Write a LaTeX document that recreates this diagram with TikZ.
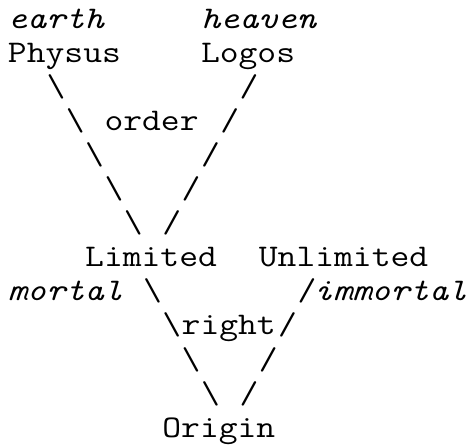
\documentclass[tikz,border=0pt]{standalone}
\usepackage{fontspec}
\usepackage{graphicx}
\tikzset{
  ch/.style={anchor=base west, inner sep=0pt, outer sep=0pt,
    font=\ttfamily\fontsize{31.5pt}{34pt}\selectfont},
  itch/.style={ch, font=\ttfamily\fontsize{31.5pt}{34pt}\selectfont\itshape}
}
\newcommand{\sx}[1]{\scalebox{1.16}[1]{#1}}
\newcommand{\bs}{\sx{\textbackslash}}
\begin{document}
\begin{tikzpicture}[x=19.3pt, y=-34.1pt]
\useasboundingbox (0pt,0pt) rectangle (469pt,-445pt);
\begin{scope}[shift={(8pt,-28pt)}]
% row 0
\node[itch] (earth) at (0,0) {\sx{earth}};
\node[itch] (heaven) at (10,0) {\sx{heaven}};
% row 1
\node[ch] (physus) at (0,1) {\sx{Physus}};
\node[ch] (logos) at (10,1) {\sx{Logos}};
% rows 2-6
\node[ch] (l2) at (2,2) {\bs};
\node[ch] (r2) at (12,2) {\sx{/}};
\node[ch] (l3) at (3,3) {\bs};
\node[ch] (order) at (5,3) {\sx{order}};
\node[ch] (r3) at (11,3) {\sx{/}};
\node[ch] (l4) at (4,4) {\bs};
\node[ch] (r4) at (10,4) {\sx{/}};
\node[ch] (l5) at (5,5) {\bs};
\node[ch] (r5) at (9,5) {\sx{/}};
\node[ch] (l6) at (6,6) {\bs};
\node[ch] (r6) at (8,6) {\sx{/}};
% row 7
\node[ch] (limited) at (4,7) {\sx{Limited}};
\node[ch] (unlimited) at (13,7) {\sx{Unlimited}};
% row 8
\node[itch] (mortal) at (0,8) {\sx{mortal}};
\node[ch] (l8) at (7,8) {\bs};
\node[ch] (r8) at (15,8) {\sx{/}};
\node[itch] (immortal) at (15.85,8) {\sx{immortal}};
% row 9
\node[ch] (l9) at (8,9) {\bs};
\node[ch] (right) at (9,9) {\sx{right}};
\node[ch] (r9) at (14,9) {\sx{/}};
% rows 10-11
\node[ch] (l10) at (9,10) {\bs};
\node[ch] (r10) at (13,10) {\sx{/}};
\node[ch] (l11) at (10,11) {\bs};
\node[ch] (r11) at (12,11) {\sx{/}};
% row 12
\node[ch] (origin) at (8,12) {\sx{Origin}};
\end{scope}
\end{tikzpicture}
\end{document}
